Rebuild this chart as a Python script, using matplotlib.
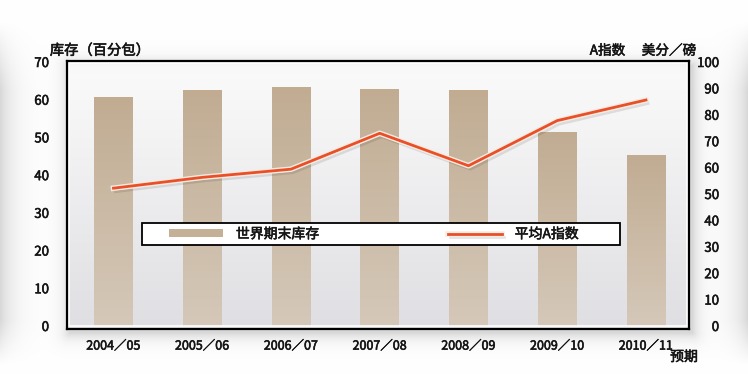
import numpy as np
import matplotlib
matplotlib.use('Agg')
import matplotlib.pyplot as plt
from matplotlib.patches import Rectangle
import matplotlib.patheffects as pe

plt.rcParams['font.family'] = ['Noto Sans CJK SC', 'DejaVu Sans']

# ---- data ----
seasons = ['2004／05', '2005／06', '2006／07', '2007／08', '2008／09', '2009／10', '2010／11']
stocks = [60.6, 62.6, 63.3, 62.9, 62.6, 51.5, 45.4]          # left axis, 百分包
a_index = [52.2, 56.3, 59.4, 73.0, 60.7, 77.8, 85.6]         # right axis, 美分/磅
left_ticks = [0, 10, 20, 30, 40, 50, 60, 70]
right_ticks = [0, 10, 20, 30, 40, 50, 60, 70, 80, 90, 100]
stock_label = '世界期末库存'
index_label = '平均A指数'
left_title = '库存（百分包）'
right_title_a = 'A指数'
right_title_b = '美分／磅'
forecast_note = '预期'

W, H = 748, 374
TXT = '#151515'
BOLDEN = [pe.withStroke(linewidth=0.42, foreground=TXT)]
fig = plt.figure(figsize=(W / 100, H / 100), dpi=100)
fig.patch.set_facecolor('white')

# ---- background with soft shadows ----
L, R, T, B = 67, 689, 61, 328.5
bg_ax = fig.add_axes([0, 0, 1, 1], zorder=-10)
bg_ax.axis('off')
yy, xx = np.mgrid[0:H, 0:W].astype(float)
vprof = np.clip((yy - 20) / 70, 0, 1) * np.clip((365 - yy) / 45, 0, 1)
dark = 0.15 * np.exp(-xx / 14) * vprof + 0.15 * np.exp(-(W - 1 - xx) / 14) * vprof
dx = np.maximum(np.maximum(L + 2 - xx, xx - (R + 3)), 0)
dy = np.maximum(np.maximum(T + 4 - yy, yy - (B + 4)), 0)
dark += 0.15 * np.exp(-np.hypot(dx, dy) / 7)
img = 1 - np.clip(dark, 0, 0.3)
bg_ax.imshow(np.dstack([img] * 3), extent=[0, 1, 0, 1], aspect='auto', origin='upper')
bg_ax.set_xlim(0, 1)
bg_ax.set_ylim(0, 1)

# ---- main axes ----
ax = fig.add_axes([L / W, 1 - B / H, (R - L) / W, (B - T) / H])
ax.patch.set_visible(False)
g = np.linspace(0, 1, 256)[:, None]
top_c = np.array([0.985, 0.985, 0.985])
bot_c = np.array([0.875, 0.875, 0.89])
grad = top_c[None, None, :] * (1 - g[..., None]) + bot_c[None, None, :] * g[..., None]
inner = np.exp(-np.linspace(0, 1, 256) * 60)[:, None, None] * 0.06
grad = np.clip(grad - inner, 0, 1)
ax.imshow(np.repeat(grad, 4, axis=1), extent=[0, 1, 0, 1], transform=ax.transAxes,
          aspect='auto', origin='upper', zorder=0)

x = np.arange(len(seasons))
bars = ax.bar(x, stocks, width=0.434, color='#c4b096', zorder=2, label=stock_label)
bar_top = np.array([0.757, 0.675, 0.573])
bar_bot = np.array([0.835, 0.785, 0.725])
bgrad = bar_top[None, None, :] * (1 - g[..., None]) + bar_bot[None, None, :] * g[..., None]
for b in bars:
    x0, y0, w, h = b.get_x(), b.get_y(), b.get_width(), b.get_height()
    im = ax.imshow(bgrad, extent=[x0, x0 + w, y0, y0 + h], aspect='auto',
                   origin='upper', zorder=2.1)
    im.set_clip_path(b)

ax.set_xlim(-0.524, 6.485)
ax.set_ylim(-0.663, 70.265)
ax.set_yticks(left_ticks)
ax.set_xticks(x, seasons)
ax.tick_params(axis='both', length=0, colors=TXT)
ax.tick_params(axis='y', pad=13, labelsize=9.5)
ax.tick_params(axis='x', pad=8, labelsize=9.0)
for s in ax.spines.values():
    s.set_color('black')
    s.set_linewidth(1.6)
    s.set_zorder(5)
ix, iy = 2.3 / (R - L), 2.3 / (B - T)
ax.add_patch(Rectangle((ix, iy), 1 - 2 * ix, 1 - 2 * iy, transform=ax.transAxes,
                       fill=False, ec='white', lw=1.2, zorder=4))

ax2 = ax.twinx()
line, = ax2.plot(x, a_index, color='#ea4f28', lw=2.0, label=index_label, zorder=3,
                 path_effects=[pe.SimpleLineShadow(offset=(1.5, -2.5), shadow_color='k', alpha=0.1),
                               pe.Stroke(linewidth=4.0, foreground='#f4ece2'),
                               pe.Normal()])
ax2.set_ylim(-0.947, 100.379)
ax2.set_yticks(right_ticks)
ax2.tick_params(axis='y', length=0, pad=21.6, labelsize=9.5, colors=TXT)
for t in ax2.get_yticklabels():
    t.set_ha('right')
for s in ax2.spines.values():
    s.set_visible(False)

# ---- titles ----
texts = [
    fig.text(99.7 / W, 1 - 50.7 / H, left_title, ha='center', va='center', fontsize=10.3, color=TXT),
    fig.text(607.5 / W, 1 - 50.7 / H, right_title_a, ha='center', va='center', fontsize=9.8, color=TXT),
    fig.text(669 / W, 1 - 50.7 / H, right_title_b, ha='center', va='center', fontsize=9.8, color=TXT),
    fig.text(684 / W, 1 - 357 / H, forecast_note, ha='center', va='center', fontsize=10, color=TXT),
]

# ---- legend ----
box = Rectangle((142 / W, 1 - 245 / H), 478 / W, 21.7 / H, transform=fig.transFigure,
                fc='white', ec='black', lw=1.3, zorder=5)
fig.add_artist(box)
leg = fig.legend(handles=[bars, line], labels=[stock_label, index_label], ncol=2,
                 loc='center left', bbox_to_anchor=(162 / W, 1 - 234.2 / H), frameon=False,
                 borderpad=0, handlelength=3.88, handleheight=0.5, handletextpad=0.94,
                 columnspacing=9.26, fontsize=10)
leg.set_zorder(6)
for t in leg.get_texts():
    t.set_color(TXT)
    texts.append(t)

texts += ax.get_xticklabels() + ax.get_yticklabels() + ax2.get_yticklabels()
for t in texts:
    t.set_path_effects(BOLDEN)

fig.savefig('out.png', dpi=100)
